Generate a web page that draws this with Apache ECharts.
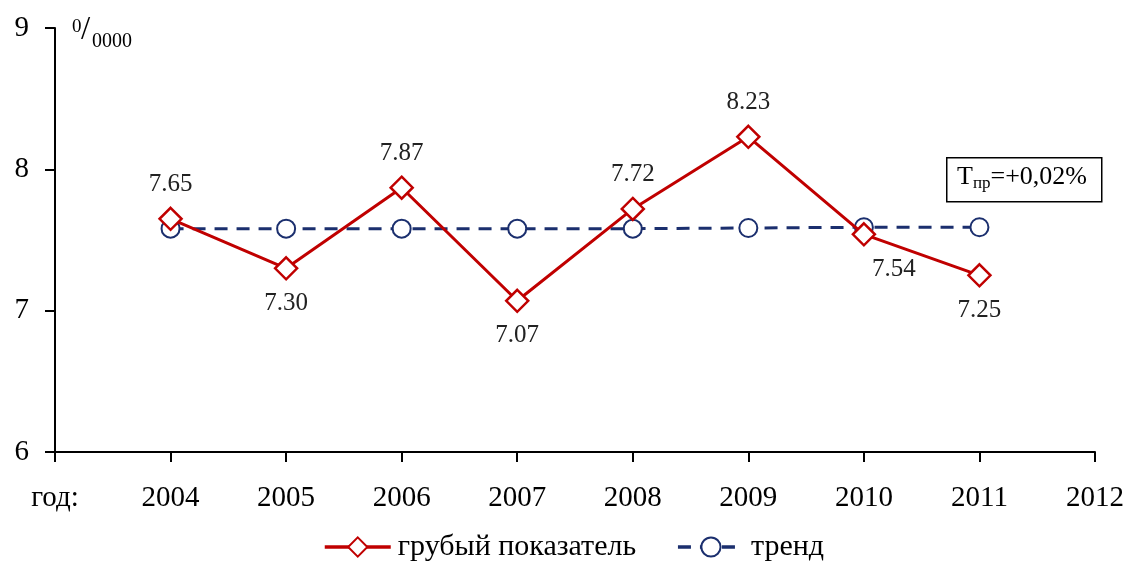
<!DOCTYPE html>
<html><head><meta charset="utf-8">
<script src="https://cdn.jsdelivr.net/npm/echarts@6/dist/echarts.min.js"></script>
<style>html,body{margin:0;padding:0;background:#fff}#c{width:1127px;height:563px}</style>
</head><body><div id="c"></div>
<script>
var years = [2004, 2005, 2006, 2007, 2008, 2009, 2010, 2011];
var crude = [7.65, 7.30, 7.87, 7.07, 7.72, 8.23, 7.54, 7.25];
var trend = [7.58, 7.58, 7.58, 7.58, 7.58, 7.585, 7.59, 7.59];
var yTicks = [6, 7, 8, 9];
var xFirstLabel = 'год:';
var labelPos = ['top', 'bottom', 'top', 'bottom', 'top', 'top', 'bottom', 'bottom'];

var FONT = '"Liberation Serif", "Times New Roman", serif';
var chart = echarts.init(document.getElementById('c'));
var crudeData = years.map(function (y, i) {
  var d = { value: [y, crude[i]], label: { position: labelPos[i] } };
  if (i === 6) d.label.offset = [30, 0];
  return d;
});
var trendData = years.map(function (y, i) { return [y, trend[i]]; });

chart.setOption({
  animation: false,
  textStyle: { fontFamily: FONT },
  grid: { left: 55, right: 32, top: 28, bottom: 111 },
  xAxis: {
    type: 'value', min: 2003, max: 2012, interval: 1,
    axisLine: { lineStyle: { color: '#000', width: 2 } },
    axisTick: { show: true, length: 10, lineStyle: { color: '#000', width: 2 } },
    splitLine: { show: false },
    axisLabel: { color: '#000', fontSize: 29, fontFamily: FONT, margin: 32,
      formatter: function (v) { return v === 2003 ? xFirstLabel : String(v); } }
  },
  yAxis: {
    type: 'value', min: yTicks[0], max: yTicks[yTicks.length - 1], interval: 1,
    axisLine: { show: true, lineStyle: { color: '#000', width: 2 } },
    axisTick: { show: true, length: 10, lineStyle: { color: '#000', width: 2 } },
    splitLine: { show: false },
    axisLabel: { color: '#000', fontSize: 29, fontFamily: FONT, margin: 26 }
  },
  legend: {
    top: 527, left: 318, itemWidth: 66, itemHeight: 24, itemGap: 40,
    textStyle: { color: '#000', fontSize: 30, fontFamily: FONT, padding: [0, 0, 0, 2] },
    data: [
      { name: 'грубый показатель', lineStyle: { width: 3.5 } },
      { name: 'тренд', lineStyle: { width: 3.5 } }
    ]
  },
  series: [
    {
      name: 'тренд', type: 'line', data: trendData, z: 2,
      symbol: 'circle', symbolSize: 18, showSymbol: true,
      lineStyle: { color: '#1b2f6e', width: 3, type: [13, 9] },
      itemStyle: { color: '#fff', borderColor: '#1b2f6e', borderWidth: 2 }
    },
    {
      name: 'грубый показатель', type: 'line', data: crudeData, z: 3,
      symbol: 'diamond', symbolSize: [22, 22],
      lineStyle: { color: '#c00000', width: 3 },
      itemStyle: { color: '#fff', borderColor: '#c00000', borderWidth: 2.5 },
      label: { show: true, color: '#222', fontSize: 25, fontFamily: FONT, distance: 10,
        formatter: function (p) { return p.value[1].toFixed(2); } }
    }
  ],
  graphic: [
    { type: 'text', left: 72, top: 18, style: { text: '0', fontSize: 19, fontFamily: FONT, fill: '#000' } },
    { type: 'text', left: 81, top: 14, style: { text: '/', fontSize: 33, fontFamily: FONT, fill: '#000' } },
    { type: 'text', left: 92, top: 32, style: { text: '0000', fontSize: 20, fontFamily: FONT, fill: '#000' } },
    { type: 'rect', left: 946, top: 157, shape: { width: 155, height: 44 },
      style: { fill: '#fff', stroke: '#000', lineWidth: 1.5 } },
    { type: 'text', left: 957, top: 164, style: {
      rich: { a: { fontSize: 26, fontFamily: FONT, fill: '#000' },
              s: { fontSize: 17, fontFamily: FONT, fill: '#000', padding: [14, 0, 0, 0] } },
      text: '{a|T}{s|пр}{a|=+0,02%}' } }
  ]
});
</script></body></html>
